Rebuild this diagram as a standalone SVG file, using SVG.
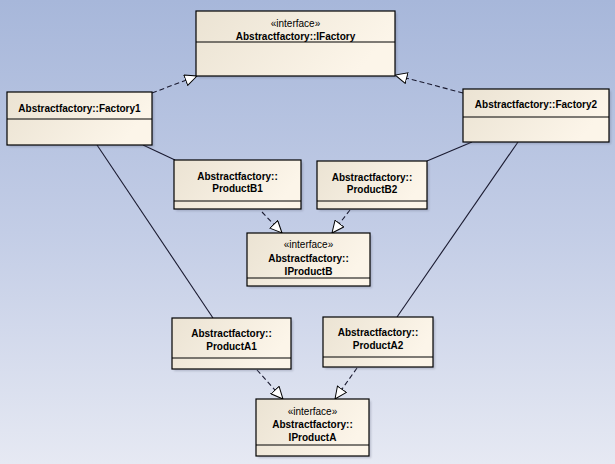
<svg xmlns="http://www.w3.org/2000/svg" width="615" height="464" viewBox="0 0 615 464">
<defs>
<linearGradient id="bg" x1="0" y1="0" x2="0" y2="1">
<stop offset="0" stop-color="#a7b7da"/>
<stop offset="0.5" stop-color="#c3cde6"/>
<stop offset="1" stop-color="#e6e9f3"/>
</linearGradient>
<linearGradient id="nf" x1="0" y1="0" x2="1" y2="0.3">
<stop offset="0" stop-color="#ebe3d3"/>
<stop offset="1" stop-color="#fcf5e9"/>
</linearGradient>
<marker id="tri" markerWidth="14" markerHeight="12" refX="12.5" refY="6" orient="auto" markerUnits="userSpaceOnUse">
<path d="M0.5,0.5 L12.5,6 L0.5,11.5 Z" fill="#ffffff" stroke="#000" stroke-width="1"/>
</marker>
<filter id="sh" x="-10%" y="-10%" width="130%" height="130%">
<feGaussianBlur stdDeviation="1"/>
</filter>
</defs>
<style>
.box{fill:url(#nf);stroke:#000;stroke-width:1.2}
.shd{fill:#6a7088;opacity:0.35;filter:url(#sh)}
.div{stroke:#000;stroke-width:1}
.t{font-family:"Liberation Sans",Arial,sans-serif;font-size:10px;text-anchor:middle;fill:#000}
.b{font-weight:bold}
.dash{fill:none;stroke:#1a1a30;stroke-width:1.1;stroke-dasharray:5,3;marker-end:url(#tri)}
.sol{fill:none;stroke:#1a1a30;stroke-width:1.1}
</style>
<rect x="0" y="0" width="615" height="464" fill="url(#bg)"/>

<g id="connectors">
<line class="sol" x1="143" y1="145" x2="175" y2="160"/>
<line class="sol" x1="472" y1="142" x2="427" y2="161"/>
<line class="sol" x1="97" y1="145" x2="213" y2="318"/>
<line class="sol" x1="518" y1="142" x2="397" y2="317"/>
<path class="dash" d="M152,93 L197,76"/>
<path class="dash" d="M463,93 L395,75"/>
<path class="dash" d="M262,212 L282,233"/>
<path class="dash" d="M350,210 L332,233"/>
<path class="dash" d="M257,370 L283,399"/>
<path class="dash" d="M357,368 L335,399"/>
</g>

<g id="IFactory">
<rect class="shd" x="198" y="13" width="199" height="65"/>
<rect class="box" x="196" y="11" width="199" height="65"/>
<line class="div" x1="196" y1="42" x2="395" y2="42"/>
<text class="t" x="295.5" y="27">«interface»</text>
<text class="t b" x="295.5" y="40">Abstractfactory::IFactory</text>
</g>

<g id="Factory1">
<rect class="shd" x="9" y="94" width="145" height="53"/>
<rect class="box" x="7" y="92" width="145" height="53"/>
<line class="div" x1="7" y1="119" x2="152" y2="119"/>
<text class="t b" x="79.5" y="112">Abstractfactory::Factory1</text>
</g>

<g id="Factory2">
<rect class="shd" x="465" y="91" width="146" height="53"/>
<rect class="box" x="463" y="89" width="146" height="53"/>
<line class="div" x1="463" y1="117" x2="609" y2="117"/>
<text class="t b" x="536" y="108">Abstractfactory::Factory2</text>
</g>

<g id="ProductB1">
<rect class="shd" x="176" y="162" width="127" height="49"/>
<rect class="box" x="174" y="160" width="127" height="49"/>
<line class="div" x1="174" y1="201" x2="301" y2="201"/>
<text class="t b" x="237.5" y="180">Abstractfactory::</text>
<text class="t b" x="237.5" y="192">ProductB1</text>
</g>

<g id="ProductB2">
<rect class="shd" x="319" y="163" width="110" height="48"/>
<rect class="box" x="317" y="161" width="110" height="48"/>
<line class="div" x1="317" y1="201" x2="427" y2="201"/>
<text class="t b" x="372" y="181">Abstractfactory::</text>
<text class="t b" x="372" y="193">ProductB2</text>
</g>

<g id="IProductB">
<rect class="shd" x="249" y="235" width="123" height="53"/>
<rect class="box" x="247" y="233" width="123" height="53"/>
<line class="div" x1="247" y1="278" x2="370" y2="278"/>
<text class="t" x="308.5" y="248">«interface»</text>
<text class="t b" x="308.5" y="262">Abstractfactory::</text>
<text class="t b" x="308.5" y="275">IProductB</text>
</g>

<g id="ProductA1">
<rect class="shd" x="174" y="320" width="119" height="51"/>
<rect class="box" x="172" y="318" width="119" height="51"/>
<line class="div" x1="172" y1="358" x2="291" y2="358"/>
<text class="t b" x="231.5" y="337">Abstractfactory::</text>
<text class="t b" x="231.5" y="350">ProductA1</text>
</g>

<g id="ProductA2">
<rect class="shd" x="325" y="319" width="110" height="50"/>
<rect class="box" x="323" y="317" width="110" height="50"/>
<line class="div" x1="323" y1="357" x2="433" y2="357"/>
<text class="t b" x="378" y="336">Abstractfactory::</text>
<text class="t b" x="378" y="349">ProductA2</text>
</g>

<g id="IProductA">
<rect class="shd" x="258" y="401" width="113" height="57"/>
<rect class="box" x="256" y="399" width="113" height="57"/>
<line class="div" x1="256" y1="445" x2="369" y2="445"/>
<text class="t" x="312.5" y="415">«interface»</text>
<text class="t b" x="312.5" y="428">Abstractfactory::</text>
<text class="t b" x="312.5" y="441">IProductA</text>
</g>
</svg>
